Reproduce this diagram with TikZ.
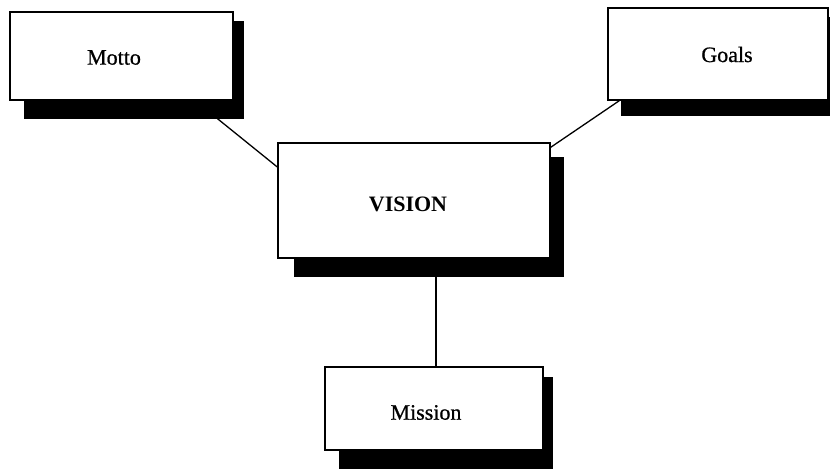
\documentclass[tikz,border=0pt]{standalone}
\usepackage{fontspec}
\setmainfont{Liberation Serif}
\newfontfamily\labelfont[FakeBold=0.8]{Liberation Serif}
\usetikzlibrary{backgrounds,calc}
\tikzset{
  box/.style={draw=black, line width=1.4pt, fill=white, rectangle, inner sep=0pt},
  txt/.style={inner sep=0pt, font=\labelfont\fontsize{22}{26}\selectfont},
  shade/.style={fill=black},
  link/.style={draw=black, line width=1.3pt}
}
\begin{document}
\begin{tikzpicture}[x=1pt,y=-1pt]
\useasboundingbox (0,0) rectangle (830,473);

% the four boxes
\node[box, minimum width=223, minimum height=88] (motto) at (121.5,56) {};
\node[box, minimum width=220, minimum height=92] (goals) at (718,54) {};
\node[box, minimum width=272, minimum height=115] (vision) at (414,200.5) {};
\node[box, minimum width=218, minimum height=83] (mission) at (434,408.5) {};

% their captions
\node[txt] (mottotext) at (114,57.5) {Motto};
\node[txt] (goalstext) at (727,54.5) {Goals};
\node[txt, font=\rmfamily\fontsize{22}{26}\selectfont\bfseries] (visiontext) at (408,204.5) {VISION};
\node[txt] (missiontext) at (426,412.5) {Mission};

% drop shadows behind the boxes
\begin{scope}[on background layer]
  \fill[shade] ($(motto.north west)+(15,10)$) rectangle ($(motto.south east)+(10,18)$);
  \fill[shade] ($(goals.north west)+(14,10)$) rectangle ($(goals.south east)+(12,15)$);
  \fill[shade] ($(vision.north west)+(17,15)$) rectangle ($(vision.south east)+(13,18)$);
  \fill[shade] ($(mission.north west)+(15,11)$) rectangle ($(mission.south east)+(9,18)$);
\end{scope}

% connectors
\draw[link] ([shift={(96,18)}]motto.south) -- ([shift={(0,-33.5)}]vision.west);
\draw[link] ([shift={(0,5)}]vision.north east) -- ([shift={(12,0)}]goals.south west);
\draw[link] ([shift={(22,18)}]vision.south) -- ([shift={(2,0)}]mission.north);
\end{tikzpicture}
\end{document}
